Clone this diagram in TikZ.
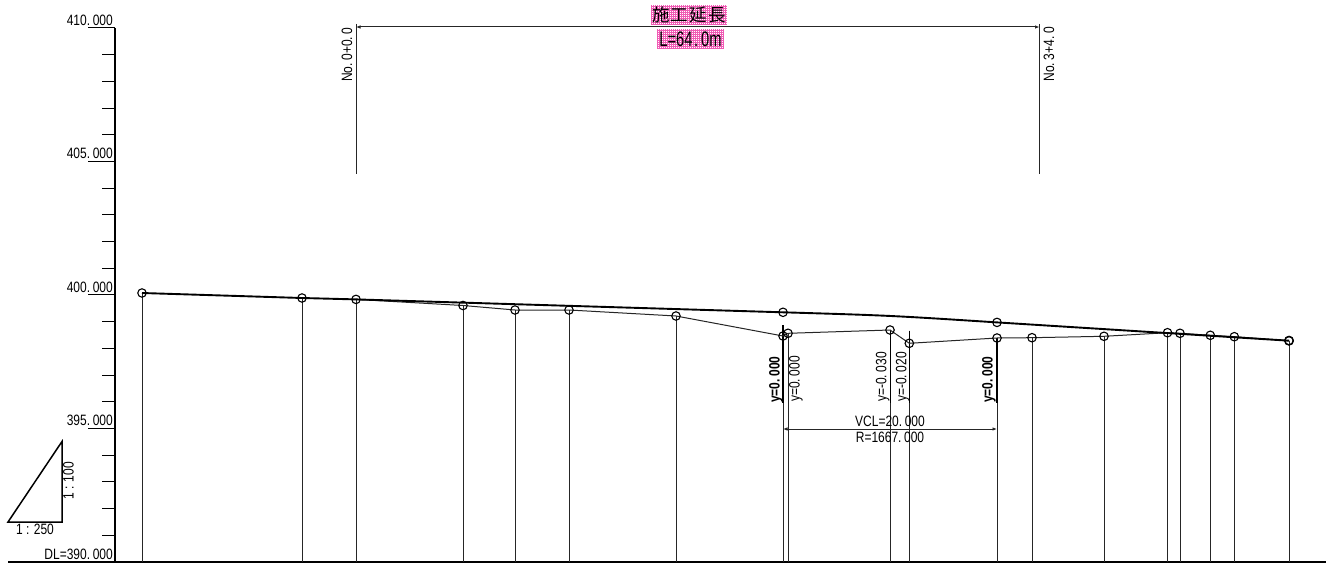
\documentclass[tikz,border=0pt]{standalone}
\usepackage{fontspec}
\setmainfont[FakeStretch=0.8]{Liberation Sans}
\newfontfamily\cjk{Noto Sans CJK JP}
\newfontfamily\widegoth[FakeStretch=0.7]{Liberation Sans}
\usetikzlibrary{arrows.meta,patterns}
\newcommand\dt{.\kern2.6pt}
\definecolor{pinkfill}{RGB}{240,90,180}
\pgfdeclarepatternformonly{whitedots}{\pgfqpoint{0pt}{0pt}}{\pgfqpoint{1pt}{1pt}}{\pgfqpoint{2pt}{2pt}}{\pgfpathrectangle{\pgfqpoint{0pt}{0pt}}{\pgfqpoint{1pt}{1pt}}\pgfusepath{fill}}
\tikzset{
  lab/.style={inner sep=0pt,font=\fontsize{15}{15}\selectfont},
  blab/.style={lab,font=\fontsize{15}{15}\selectfont\bfseries},
  thin line/.style={line width=1pt,black!85},
  axis line/.style={line width=1.5pt,black},
  surf line/.style={line width=1.9pt,black},
  tickmark/.style={line width=1pt,black},
  pt/.style={circle,draw=black,line width=1.1pt,minimum size=8.5pt,inner sep=0pt},
  dimarrow/.style={thin line,{Latex[length=4.5pt,width=3.5pt]}-{Latex[length=4.5pt,width=3.5pt]}},
  pinkbase/.style={fill=pinkfill,draw=none},
  pinkdots/.style={pattern=whitedots,pattern color=white,draw=none}
}
\begin{document}
\begin{tikzpicture}[x=1pt,y=-1pt]
\useasboundingbox[fill=white] (0,0) rectangle (1326,564);
% axis
\coordinate (axT) at (115,28);
\coordinate (axB) at (115,562);
\coordinate (bl) at (8,562);
\coordinate (br) at (1326,562);
\draw[axis line] (axT) -- (axB);
\draw[axis line] (bl) -- (br);
\foreach \k in {0,5,10,15} \draw[tickmark] (88,{28+26.7*\k}) -- (115,{28+26.7*\k});
\foreach \k in {1,2,3,4,6,7,8,9,11,12,13,14,16,17,18,19} \draw[tickmark] (102,{28+26.7*\k}) -- (115,{28+26.7*\k});
\node[lab,anchor=east] (a410) at (113,20) {410\dt000};
\node[lab,anchor=east] (a405) at (113,153) {405\dt000};
\node[lab,anchor=east] (a400) at (113,287) {400\dt000};
\node[lab,anchor=east] (a395) at (113,420.5) {395\dt000};
\node[lab,anchor=east] (a390) at (113,554) {DL=390\dt000};
% scale triangle
\coordinate (t1) at (8,522);
\coordinate (t2) at (62,522);
\coordinate (t3) at (62,441.5);
\draw[axis line,line join=miter] (t1) -- (t2) -- (t3) -- cycle;
\node[lab] (s250) at (35,529.5) {1 : 250};
\node[lab,rotate=90] (s100) at (68.5,481) {1 : 100};
% station coordinates (upper line)
\coordinate (u1) at (142,293);
\coordinate (u2) at (302,298);
\coordinate (u3) at (356,299.4);
\coordinate (u4) at (783,312.3);
\coordinate (uc) at (890,315.5);
\coordinate (u5) at (997,322.4);
\coordinate (u6) at (1289,340.7);
% lower points
\coordinate (g1) at (463,305.5);
\coordinate (g2) at (515,310);
\coordinate (g3) at (569,310);
\coordinate (g4) at (676,316);
\coordinate (g5) at (783,336);
\coordinate (g6) at (788,333.3);
\coordinate (g7) at (890,330);
\coordinate (g8) at (909.3,343.3);
\coordinate (g9) at (997,338);
\coordinate (g10) at (1032,337.7);
\coordinate (g11) at (1104,336.3);
\coordinate (g12) at (1167.5,332.7);
\coordinate (g13) at (1180,333.3);
\coordinate (g14) at (1210.3,335.3);
\coordinate (g15) at (1234.3,336.7);
% verticals
\foreach \p in {u1,u2,u3,g1,g2,g3,g4,g6,g7,g9,g10,g11,g12,g13,g14,g15,u6}
  \draw[thin line] (\p) -- (\p |- br);
\draw[thin line] (783,325) -- (783,562);
\draw[thin line] (909.3,330.7) -- (909.3,562);
\draw[axis line] (783,325) -- (783,403);
\draw[axis line] (997,338) -- (997,403);
\draw[tickmark] (890,330) -- (890,403);
\draw[tickmark] (909.3,330.7) -- (909.3,403);
% profile
\draw[thin line] (u3) -- (g1) -- (g2) -- (g3) -- (g4) -- (g5) -- (g6) -- (g7) -- (g8) -- (g9) -- (g10) -- (g11) -- (g12) -- (g13) -- (g14) -- (g15) -- (u6);
\draw[surf line] (u1) -- (u2) -- (u3) -- (u4) .. controls (uc) .. (u5) -- (u6);
% circles
\foreach \p in {u1,u2,u3,u4,u5,u6,g1,g2,g3,g4,g5,g6,g7,g8,g9,g10,g11,g12,g13,g14,g15}
  \node[pt] (c\p) at (\p) {};
\node[pt,line width=1.4pt] (cu6b) at (u6) {};
% y labels
\node[blab,rotate=90,anchor=west] (y1) at (776,403) {y=0\dt000};
\node[lab,rotate=90,anchor=west] (y2) at (796,402) {y=0\dt000};
\node[lab,rotate=90,anchor=west] (y3) at (882.7,402) {y=-0\dt030};
\node[lab,rotate=90,anchor=west] (y4) at (902.7,402) {y=-0\dt020};
\node[blab,rotate=90,anchor=west] (y5) at (989,403) {y=0\dt000};
% VCL dimension
\coordinate (d1) at (783,429);
\coordinate (d2) at (997,429);
\draw[dimarrow] (d1) -- (d2);
\node[lab] (vcl) at (890,421) {VCL=20\dt000};
\node[lab] (rr) at (890,437) {R=1667\dt000};
% top dimension
\coordinate (l1) at (356,24);
\coordinate (l2) at (356,174);
\coordinate (r1) at (1039.5,24);
\coordinate (r2) at (1039.5,174);
\coordinate (tl) at (356,27);
\coordinate (tr) at (1039.5,27);
\draw[thin line] (l1) -- (l2);
\draw[thin line] (r1) -- (r2);
\draw[dimarrow] (tl) -- (tr);
\node[lab,rotate=90,anchor=east] (no0) at (347,27.5) {No\dt0+0\dt0};
\node[lab,rotate=90,anchor=east] (no3) at (1049,27) {No\dt3+4\dt0};
% title: pink screen behind the texts
\path[pinkbase] (651,5) rectangle (727,25);
\path[pinkbase] (657,29) rectangle (724,49);
\path[pinkdots] (651,5) rectangle (727,25);
\path[pinkdots] (657,29) rectangle (724,49);
\node[inner sep=0pt,font=\cjk\fontsize{17.5}{17.5}\selectfont] (title) at (689,15) {施\kern1.2pt 工\kern1.2pt 延\kern1.2pt 長};
\node[inner sep=0pt,font=\widegoth\fontsize{21}{21}\selectfont] (len) at (690.5,39) {L=64\kern1.5pt.\kern3pt 0m};
\end{tikzpicture}
\end{document}
